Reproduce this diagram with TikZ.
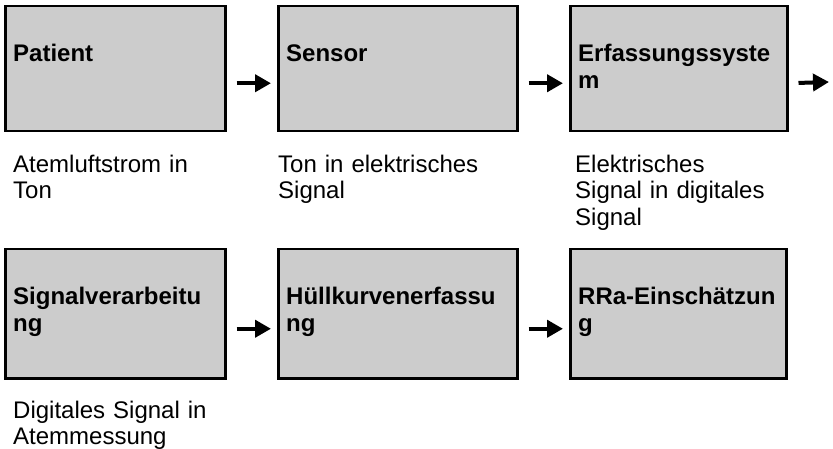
\documentclass[tikz,border=0pt]{standalone}
\usepackage{fontspec}
\setmainfont{Liberation Sans}
\usepackage{tikz}
\usetikzlibrary{positioning, arrows.meta}

\definecolor{boxgray}{gray}{0.8}

\tikzset{
    blockbox/.style={draw=black, line width=2.5bp, fill=boxgray, inner sep=0pt, anchor=north west},
    blocktext/.style={anchor=north west, inner sep=0pt, text width=215bp, align=left,
        font=\fontsize{24bp}{26.5bp}\selectfont\bfseries},
    captext/.style={anchor=north west, inner sep=0pt, text width=215bp, align=left,
        font=\fontsize{24bp}{26.5bp}\selectfont},
    flow/.style={line width=4bp, -{Triangle[length=16bp,width=17bp]}, shorten <=10bp, shorten >=6bp}
}

\begin{document}
\begin{tikzpicture}[x=1bp, y=-1bp]
    \useasboundingbox (0,0) rectangle (833,449);
    % blocks
    \foreach \n/\x/\y/\w/\h/\t in {pat/4/5/220/125/Patient,
        sen/277/5/239/125/Sensor,
        erf/569/5/217/125/{Erfassungssyste\\m},
        sig/4/248/220/129/{Signalverarbeitu\\ng},
        huel/277/248/239/129/{Hüllkurvenerfassu\\ng},
        rra/569/248/216/129/{RRa-Einschätzun\\g}} {
        \node[blockbox, minimum width=\w bp, minimum height=\h bp] (\n) at (\x,\y) {};
        \node[blocktext] (\n-t) at ([shift={(9,38)}]\n.north west) {\strut\t};
    }
    % captions
    \node[captext] (pat-c) at ([shift={(9,21)}]pat.south west) {\strut Atemluftstrom in\\Ton};
    \node[captext] (sen-c) at ([shift={(1,21)}]sen.south west) {\strut Ton in elektrisches\\Signal};
    \node[captext] (erf-c) at ([shift={(6,21)}]erf.south west) {\strut Elektrisches\\Signal in digitales\\Signal};
    \node[captext] (sig-c) at ([shift={(9,20)}]sig.south west) {\strut Digitales Signal in\\Atemmessung};
    % arrows
    \coordinate (out) at (829,82);
    \draw[flow] ([yshift=-14.5bp]pat.east) -- ([yshift=-14.5bp]sen.west);
    \draw[flow] ([yshift=-14.5bp]sen.east) -- ([yshift=-14.5bp]erf.west);
    \draw[flow, shorten >=0pt] ([yshift=-14.5bp]erf.east) -- (out);
    \draw[flow] ([yshift=-15bp]sig.east) -- ([yshift=-15bp]huel.west);
    \draw[flow] ([yshift=-15bp]huel.east) -- ([yshift=-15bp]rra.west);
\end{tikzpicture}
\end{document}
